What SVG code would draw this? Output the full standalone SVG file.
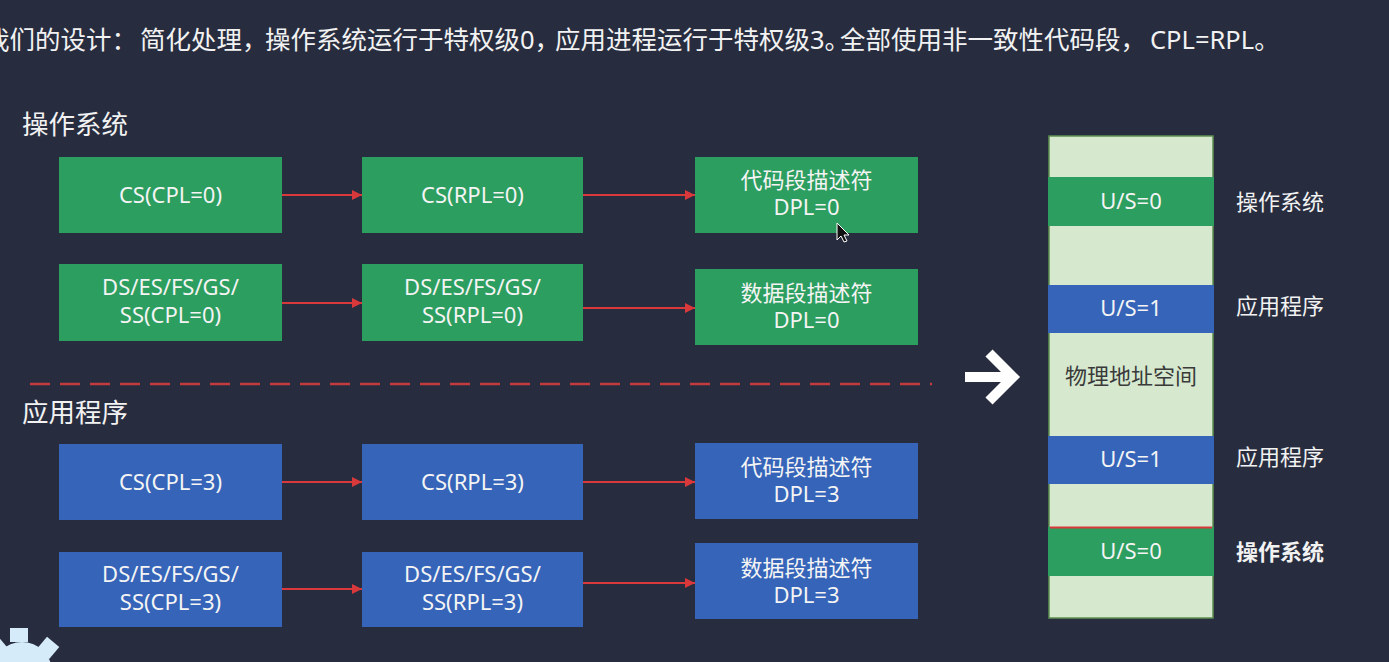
<svg xmlns="http://www.w3.org/2000/svg" width="1389" height="662" viewBox="0 0 1389 662">
<defs>
<style>
text{font-family:"Noto Sans","Noto Sans CJK SC",sans-serif;}
.cjk{font-family:"Noto Sans CJK SC","Noto Sans",sans-serif;}
.t{fill:#f2f2f2;font-size:25.5px;}
.h{fill:#f2f2f2;font-size:26.5px;}
.bt{fill:#f4f4f4;font-size:22px;text-anchor:middle;}
.lbl{fill:#f2f2f2;font-size:22px;}
.g{fill:#2c9e60;}
.b{fill:#3564b9;}
.conn{stroke:#d9393b;stroke-width:2;fill:none;marker-end:url(#ah);}
</style>
<marker id="ah" viewBox="0 0 10 10" refX="10" refY="5" markerWidth="10" markerHeight="10" markerUnits="userSpaceOnUse" orient="auto">
<path d="M0,0 L10,5 L0,10 z" fill="#d9393b"/>
</marker>
</defs>
<rect x="0" y="0" width="1389" height="662" fill="#272d3f"/>

<g id="title">
<text class="t" y="49"><tspan x="-16">我们的设计：</tspan><tspan x="140">简化处理，</tspan><tspan x="265">操作系统运行于特权级0，</tspan><tspan x="555">应用进程运行于特权级3。</tspan><tspan x="840">全部使用非一致性代码段，</tspan><tspan x="1150">CPL=RPL。</tspan></text>
</g>

<g id="heading-os"><text class="h cjk" x="22" y="134">操作系统</text></g>
<g id="heading-app"><text class="h cjk" x="22" y="422">应用程序</text></g>

<g id="os-cs-cpl"><rect class="g" x="59" y="157" width="223" height="76"/><text class="bt" x="170.5" y="203">CS(CPL=0)</text></g>
<g id="os-cs-rpl"><rect class="g" x="362" y="157" width="221" height="76"/><text class="bt" x="472.5" y="203">CS(RPL=0)</text></g>
<g id="os-code-desc"><rect class="g" x="695" y="157" width="223" height="76"/><text class="bt"><tspan class="cjk" x="806.5" y="188">代码段描述符</tspan><tspan x="806.5" y="215">DPL=0</tspan></text></g>

<g id="os-ds-cpl"><rect class="g" x="59" y="264" width="223" height="77"/><text class="bt"><tspan x="170.5" y="295">DS/ES/FS/GS/</tspan><tspan x="170.5" y="323">SS(CPL=0)</tspan></text></g>
<g id="os-ds-rpl"><rect class="g" x="362" y="264" width="221" height="77"/><text class="bt"><tspan x="472.5" y="295">DS/ES/FS/GS/</tspan><tspan x="472.5" y="323">SS(RPL=0)</tspan></text></g>
<g id="os-data-desc"><rect class="g" x="695" y="269" width="223" height="76"/><text class="bt"><tspan class="cjk" x="806.5" y="301">数据段描述符</tspan><tspan x="806.5" y="328">DPL=0</tspan></text></g>

<g id="app-cs-cpl"><rect class="b" x="59" y="444" width="223" height="76"/><text class="bt" x="170.5" y="490">CS(CPL=3)</text></g>
<g id="app-cs-rpl"><rect class="b" x="362" y="444" width="221" height="76"/><text class="bt" x="472.5" y="490">CS(RPL=3)</text></g>
<g id="app-code-desc"><rect class="b" x="695" y="443" width="223" height="76"/><text class="bt"><tspan class="cjk" x="806.5" y="475">代码段描述符</tspan><tspan x="806.5" y="502">DPL=3</tspan></text></g>

<g id="app-ds-cpl"><rect class="b" x="59" y="552" width="223" height="75"/><text class="bt"><tspan x="170.5" y="582">DS/ES/FS/GS/</tspan><tspan x="170.5" y="610">SS(CPL=3)</tspan></text></g>
<g id="app-ds-rpl"><rect class="b" x="362" y="552" width="221" height="75"/><text class="bt"><tspan x="472.5" y="582">DS/ES/FS/GS/</tspan><tspan x="472.5" y="610">SS(RPL=3)</tspan></text></g>
<g id="app-data-desc"><rect class="b" x="695" y="543" width="223" height="76"/><text class="bt"><tspan class="cjk" x="806.5" y="576">数据段描述符</tspan><tspan x="806.5" y="603">DPL=3</tspan></text></g>

<g id="connectors">
<line class="conn" x1="282" y1="195" x2="362" y2="195"/>
<line class="conn" x1="583" y1="195" x2="695" y2="195"/>
<line class="conn" x1="282" y1="303" x2="362" y2="303"/>
<line class="conn" x1="583" y1="308" x2="695" y2="308"/>
<line class="conn" x1="282" y1="482" x2="362" y2="482"/>
<line class="conn" x1="583" y1="482" x2="695" y2="482"/>
<line class="conn" x1="282" y1="589" x2="362" y2="589"/>
<line class="conn" x1="583" y1="583" x2="695" y2="583"/>
</g>

<g id="divider"><line x1="30" y1="384" x2="932" y2="384" stroke="#c33b3c" stroke-width="2.5" stroke-dasharray="20 10"/></g>

<g id="big-arrow" fill="none" stroke="#ffffff" stroke-width="10">
<line x1="965" y1="377" x2="1010" y2="377"/>
<polyline points="989,353 1013,377 989,401" stroke-linejoin="miter"/>
</g>

<g id="memory">
<rect x="1049" y="136" width="164" height="482" fill="#d6e9cf" stroke="#5f8f50" stroke-width="1.5"/>
<rect class="g" x="1048" y="177" width="166" height="49"/>
<text class="bt" x="1131" y="209">U/S=0</text>
<rect class="b" x="1048" y="285" width="166" height="48"/>
<text class="bt" x="1131" y="316">U/S=1</text>
<text class="cjk" x="1131" y="384" font-size="22" fill="#3a3a3a" text-anchor="middle">物理地址空间</text>
<rect class="b" x="1048" y="436" width="166" height="48"/>
<text class="bt" x="1131" y="467">U/S=1</text>
<rect class="g" x="1048" y="527" width="166" height="49"/>
<line x1="1050" y1="527.5" x2="1212" y2="527.5" stroke="#d9393b" stroke-width="2"/>
<text class="bt" x="1131" y="559">U/S=0</text>
</g>

<g id="memory-labels">
<text class="lbl cjk" x="1236" y="210">操作系统</text>
<text class="lbl cjk" x="1236" y="314">应用程序</text>
<text class="lbl cjk" x="1236" y="465">应用程序</text>
<text class="lbl cjk" x="1236" y="560" font-weight="bold">操作系统</text>
</g>

<g id="cursor"><path d="M837,223 L837,240 L841,236 L844,242 L847,241 L844,235 L849,235 Z" fill="#111" stroke="#fff" stroke-width="1"/></g>
<g id="gear" fill="#d6ebfa">
<circle cx="22" cy="672" r="30"/>
<rect x="10" y="628" width="18" height="14"/>
<rect x="40" y="640" width="16" height="16" transform="rotate(40 48 648)"/>
<rect x="-8" y="640" width="14" height="14" transform="rotate(-40 0 648)"/>
</g>
</svg>
